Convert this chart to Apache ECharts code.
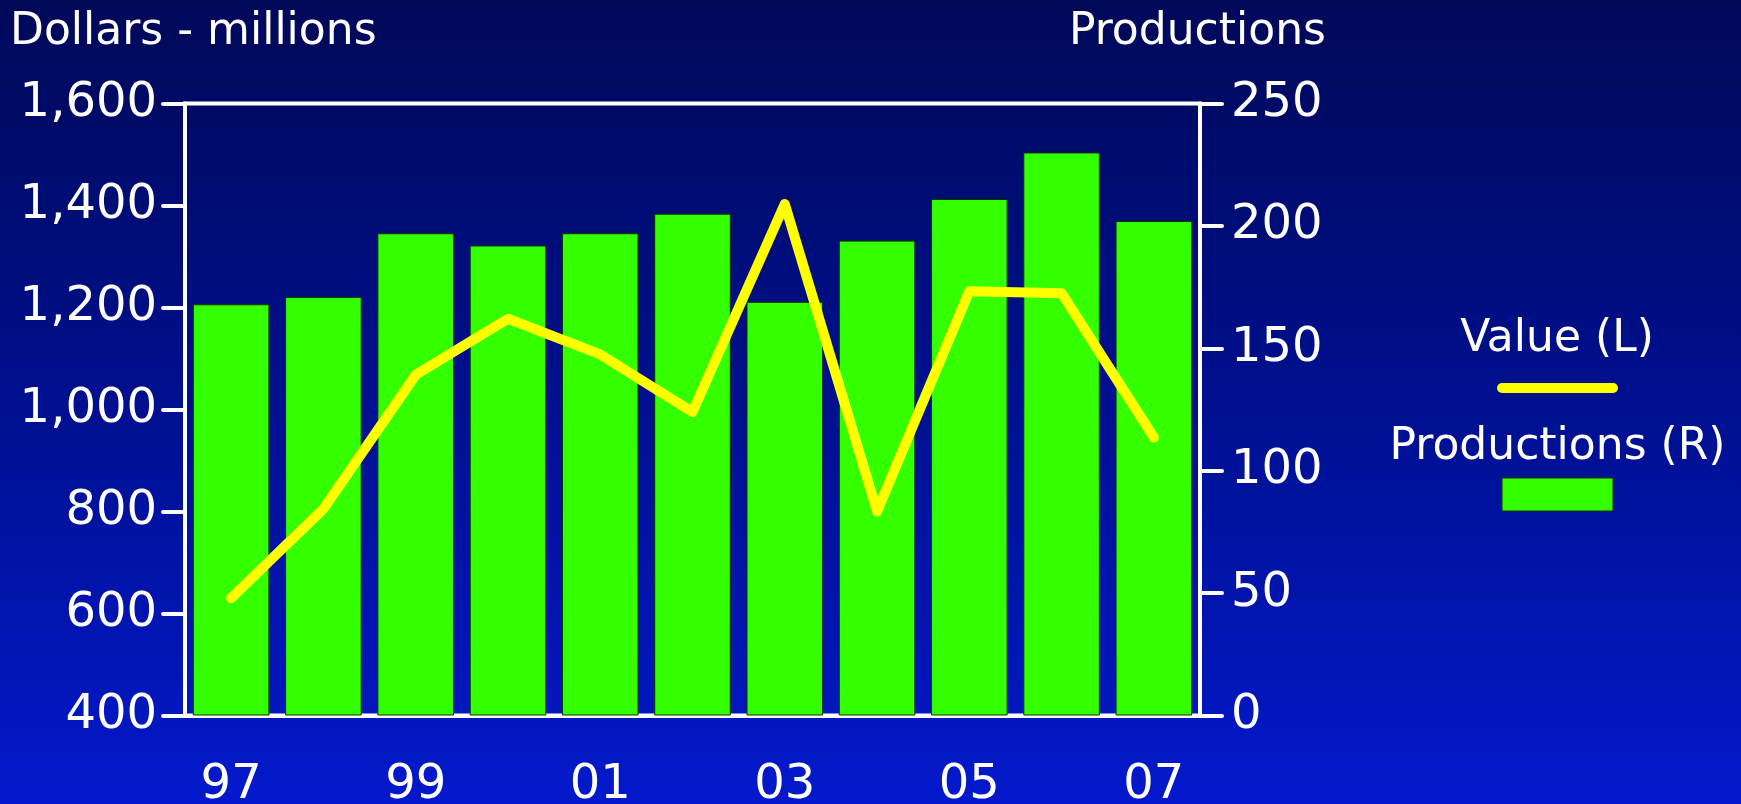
<!DOCTYPE html>
<html>
<head>
<meta charset="utf-8">
<script src="https://cdn.jsdelivr.net/npm/echarts@6/dist/echarts.min.js"></script>
<style>
  html, body { margin: 0; padding: 0; background: #000a5c; }
  #chart { width: 1741px; height: 804px; }
</style>
</head>
<body>
<div id="chart"></div>
<script>
// Years shown along the bottom axis
const years = ['97', '98', '99', '00', '01', '02', '03', '04', '05', '06', '07'];
// Number of productions per year (right axis)
const productions = [168, 171, 197, 192, 197, 205, 169, 194, 211, 230, 202];
// Value in millions of dollars (left axis)
const values = [630, 805, 1068, 1178, 1108, 995, 1403, 800, 1232, 1228, 945];

// Axis ranges
const leftAxis = { min: 400, max: 1600, step: 200 };
const rightAxis = { min: 0, max: 250, step: 50 };

const leftTitle = 'Dollars - millions';
const rightTitle = 'Productions';
const seriesNames = ['Value (L)', 'Productions (R)'];

const FONT = 'DejaVu Sans';
const WHITE = '#ffffff';
const GREEN = '#33ff00';
const YELLOW = '#ffff00';

const chart = echarts.init(document.getElementById('chart'), null, { renderer: 'canvas' });

const axisStyle = { color: WHITE, width: 4 };
const tickStyle = { color: WHITE, width: 4, cap: 'round' };

function textEl(x, y, text, align) {
  return {
    type: 'text', x: x, y: y,
    style: {
      text: text, fill: WHITE, font: '44px "' + FONT + '"',
      textAlign: align, textVerticalAlign: 'middle', verticalAlign: 'middle'
    }
  };
}

chart.setOption({
  animation: false,
  backgroundColor: {
    type: 'linear', x: 0, y: 0, x2: 0, y2: 1,
    colorStops: [
      { offset: 0, color: '#000958' },
      { offset: 0.5, color: '#00108f' },
      { offset: 1, color: '#0419cc' }
    ]
  },
  textStyle: { fontFamily: FONT },
  grid: {
    left: 185, right: 541, top: 103.5, bottom: 88.5,
    containLabel: false,
    outerBoundsMode: 'none',
    show: true, borderColor: WHITE, borderWidth: 4, backgroundColor: 'transparent'
  },
  xAxis: {
    type: 'category',
    data: years,
    axisLine: { lineStyle: axisStyle },
    axisTick: { alignWithLabel: true, length: 22, lineStyle: tickStyle },
    axisLabel: {
      color: WHITE, fontSize: 48, fontFamily: FONT, margin: 46,
      interval: 0,
      formatter: (v, i) => (i % 2 === 0 ? v : '')
    }
  },
  yAxis: [
    {
      type: 'value', position: 'left',
      min: leftAxis.min, max: leftAxis.max, interval: leftAxis.step,
      splitLine: { show: false },
      axisLine: { show: true, lineStyle: axisStyle },
      axisTick: { show: true, length: 22, lineStyle: tickStyle },
      axisLabel: {
        color: WHITE, fontSize: 48, fontFamily: FONT, margin: 28,
        padding: [12, 0, 0, 0],
        formatter: v => v.toLocaleString('en-US')
      }
    },
    {
      type: 'value', position: 'right',
      min: rightAxis.min, max: rightAxis.max, interval: rightAxis.step,
      splitLine: { show: false },
      axisLine: { show: true, lineStyle: axisStyle },
      axisTick: { show: true, length: 22, lineStyle: tickStyle },
      axisLabel: {
        color: WHITE, fontSize: 48, fontFamily: FONT, margin: 31,
        padding: [12, 0, 0, 0]
      }
    }
  ],
  series: [
    {
      name: seriesNames[1],
      type: 'bar',
      yAxisIndex: 1,
      data: productions,
      barCategoryGap: '17%',
      itemStyle: { color: GREEN, borderColor: '#0a3000', borderWidth: 1 },
      z: 2
    },
    {
      name: seriesNames[0],
      type: 'line',
      yAxisIndex: 0,
      data: values,
      symbol: 'none',
      lineStyle: { color: YELLOW, width: 10, cap: 'round', join: 'round' },
      z: 3
    }
  ],
  graphic: [
    textEl(10, 33, leftTitle, 'left'),
    textEl(1326, 33, rightTitle, 'right'),
    textEl(1557, 340, seriesNames[0], 'center'),
    {
      type: 'line',
      shape: { x1: 1502, y1: 388, x2: 1613, y2: 388 },
      style: { stroke: YELLOW, lineWidth: 10, lineCap: 'round' }
    },
    textEl(1557.5, 448, seriesNames[1], 'center'),
    {
      type: 'rect',
      shape: { x: 1502, y: 478, width: 111, height: 33 },
      style: { fill: GREEN, stroke: '#0a3000', lineWidth: 1 }
    }
  ]
});
</script>
</body>
</html>
